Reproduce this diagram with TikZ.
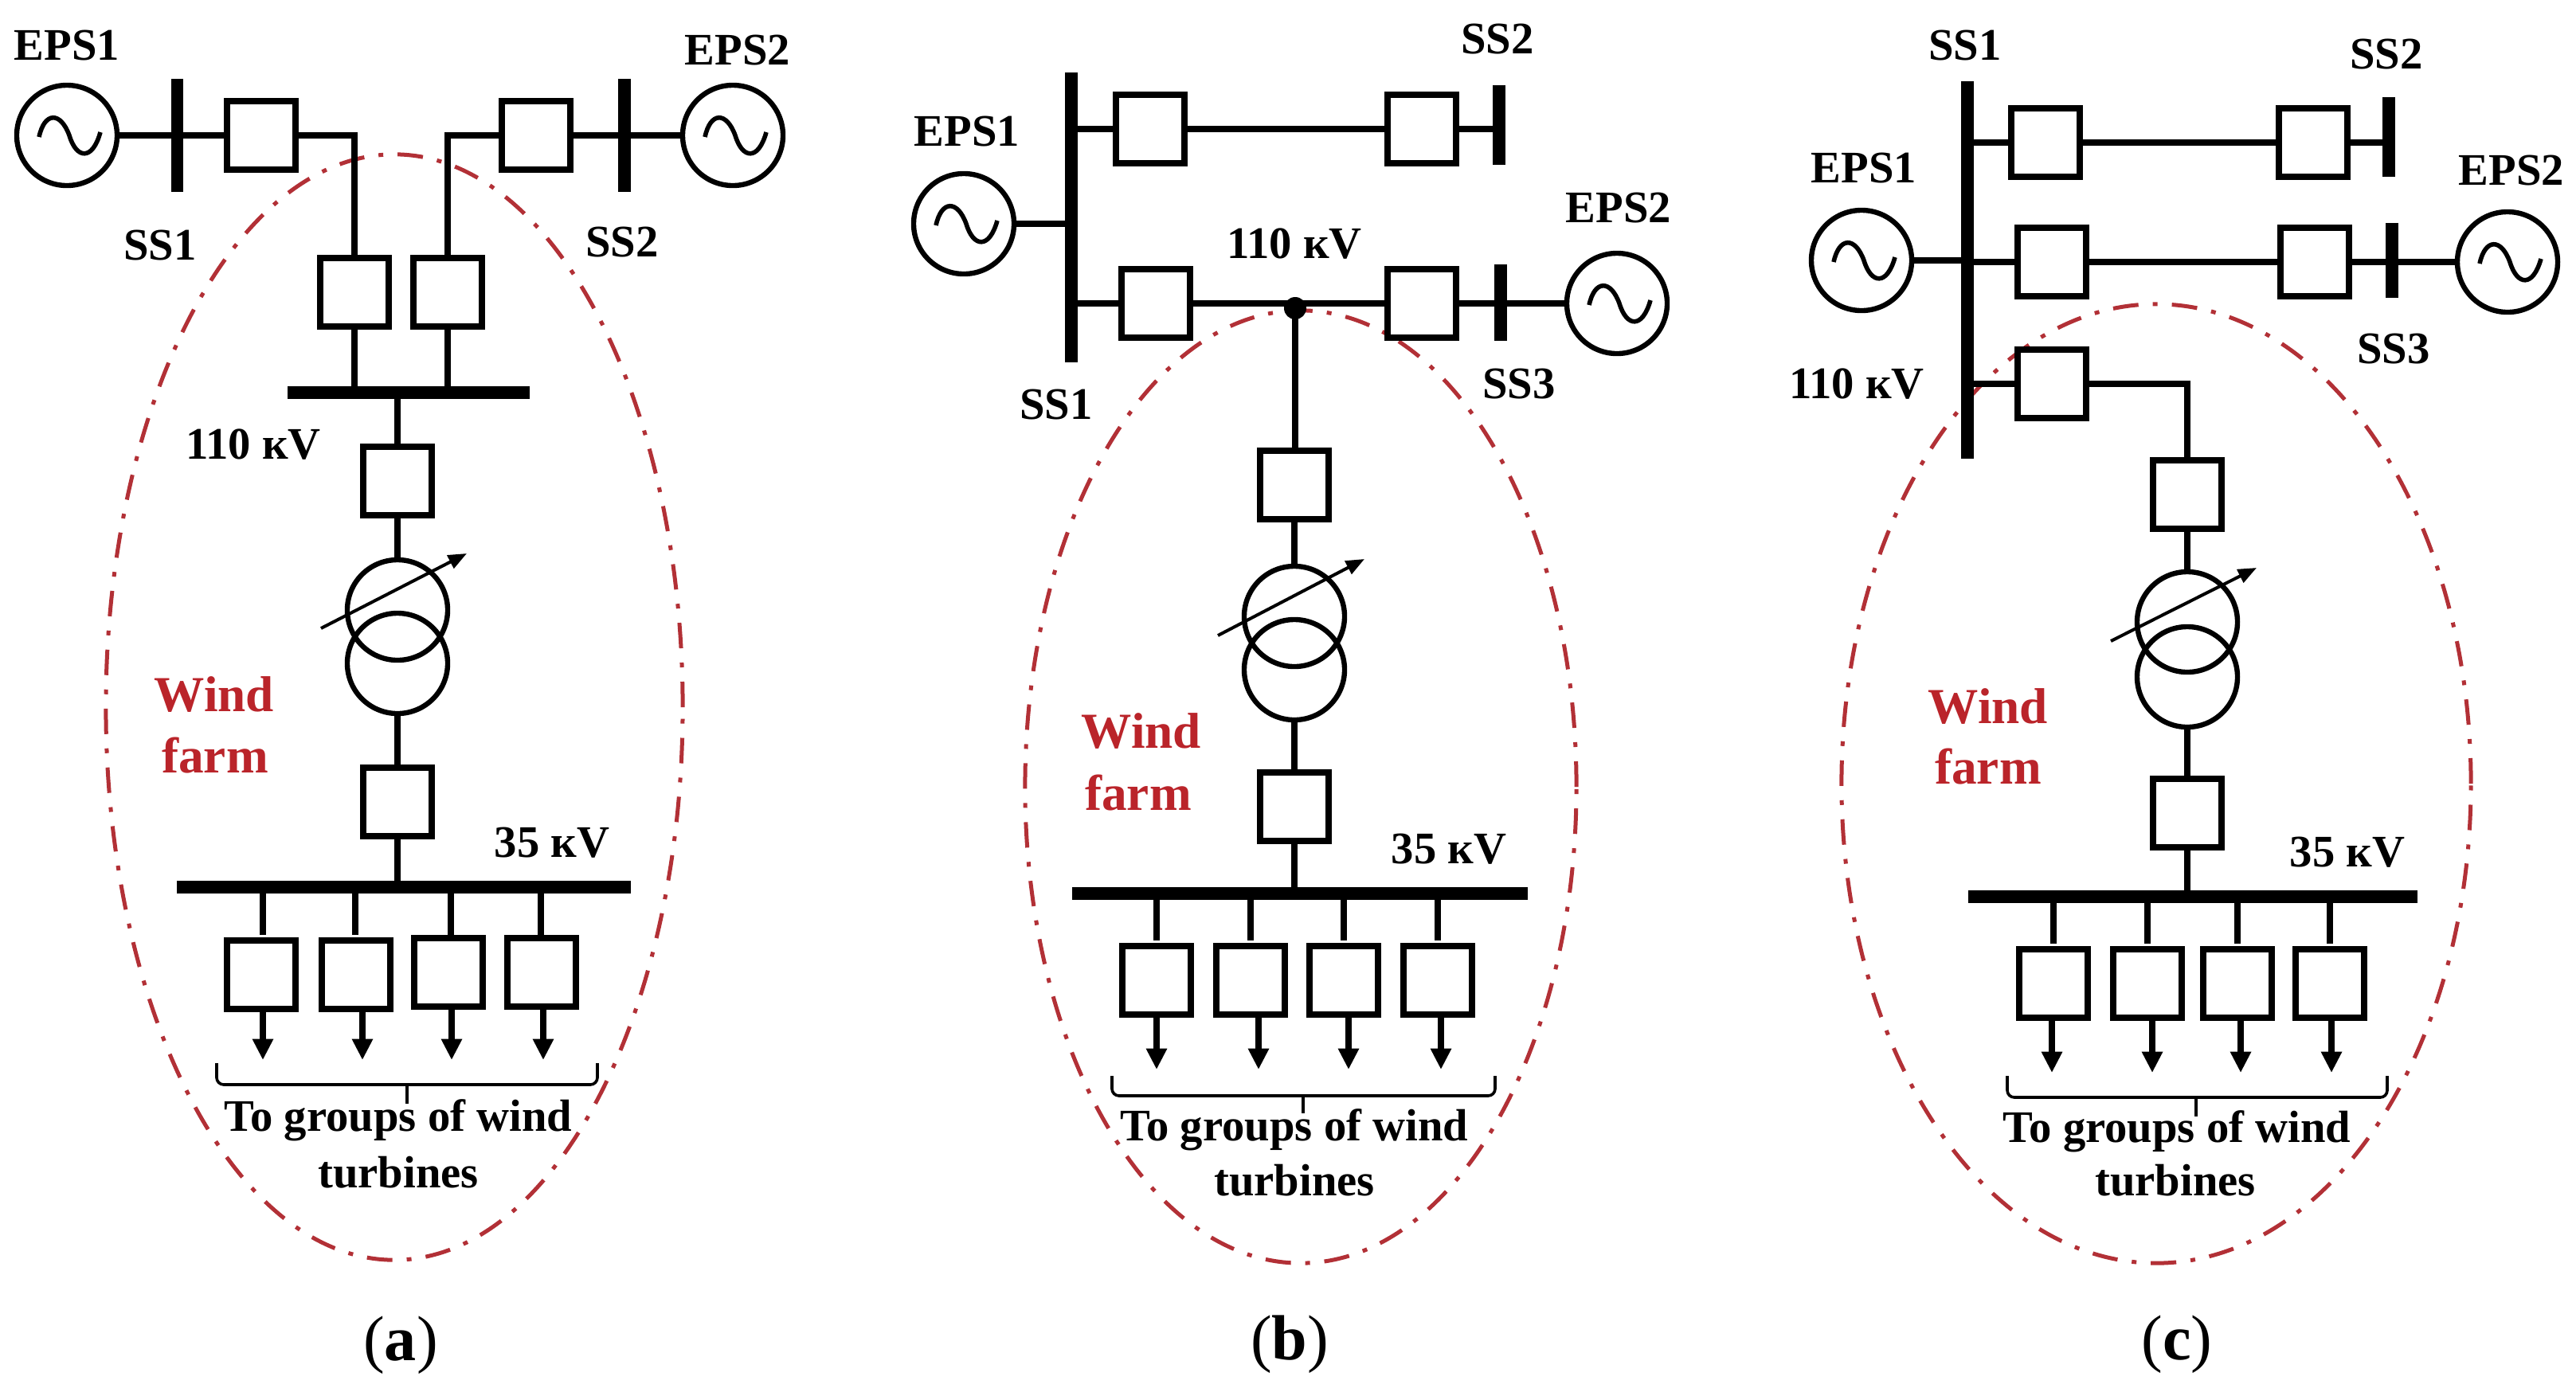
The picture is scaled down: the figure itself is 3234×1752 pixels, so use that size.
\documentclass[tikz,border=0pt]{standalone}
\usepackage{fontspec}
\setmainfont{Liberation Serif}
\usetikzlibrary{arrows.meta,shapes.geometric}
\definecolor{farmred}{RGB}{178,48,54}
\definecolor{farmtext}{RGB}{186,36,42}
\tikzset{
  x=0.025cm,y=-0.025cm,
  wire/.style={line width=0.19cm},
  boxn/.style={draw,line width=0.21cm,minimum width=2.15cm,minimum height=2.15cm,inner sep=0pt,outer sep=0pt},
  gen/.style={circle,draw,line width=0.16cm,minimum size=3.15cm,inner sep=0pt,outer sep=0pt},
  wind/.style={circle,draw,line width=0.16cm,minimum size=3.15cm,inner sep=0pt,outer sep=0pt},
  busv/.style={fill=black,minimum width=0.38cm,inner sep=0pt,outer sep=0pt},
  bush/.style={fill=black,minimum height=0.38cm,inner sep=0pt,outer sep=0pt},
  lab/.style={font=\fontsize{40.3}{48}\selectfont\bfseries,text=black,inner sep=0pt,align=center},
  farmlab/.style={font=\fontsize{45}{54}\selectfont\bfseries,text=farmtext,inner sep=0pt},
  caplab/.style={font=\fontsize{57}{64}\selectfont,text=black,inner sep=0pt},
  farm/.style={ellipse,draw=farmred,line width=0.125cm,inner sep=0pt,outer sep=0pt,dash pattern=on 0.8cm off 0.45cm on 0.15cm off 0.45cm},
  tap/.style={line width=0.1cm,-{Triangle[length=0.58cm,width=0.45cm]}},
  feed/.style={line width=0.19cm,-{Triangle[length=0.66cm,width=0.62cm]}},
  brace/.style={line width=0.09cm,rounded corners=0.22cm},
  tick/.style={line width=0.09cm},
  acs/.style={line width=0.14cm}
}
\newcommand{\acsym}[1]{\draw[acs,shift={(#1.center)}] (-35,2) .. controls (-28,-30) and (-8,-30) .. (3,0) .. controls (12,30) and (32,32) .. (42,-4);}
\begin{document}
\begin{tikzpicture}
\useasboundingbox (0,0) rectangle (3234,1752);
% ---------- panel a
\node[farm,minimum width=18.1cm,minimum height=34.7cm] (fa) at (495,888) {};
\node[gen] (aE1) at (84,170) {};
\node[gen] (aE2) at (920,170) {};
\acsym{aE1}\acsym{aE2}
\node[busv,minimum height=3.55cm] (aS1) at (222.5,170) {};
\node[busv,minimum height=3.55cm] (aS2) at (784,170) {};
\node[boxn] (aB1) at (328,170) {};
\node[boxn] (aB2) at (673,170) {};
\node[boxn] (aB3) at (445,367) {};
\node[boxn] (aB4) at (562,367) {};
\node[bush,minimum width=7.58cm] (aH) at (513,493) {};
\node[boxn] (aB5) at (499,604) {};
\node[wind] (aT1) at (499,766) {};
\node[wind] (aT2) at (499,833) {};
\node[boxn] (aB6) at (499,1007) {};
\node[bush,minimum width=14.25cm] (aL) at (507,1114) {};
\node[boxn] (aF1) at (328,1224) {};
\node[boxn] (aF2) at (447,1224) {};
\node[boxn] (aF3) at (563,1221) {};
\node[boxn] (aF4) at (680,1221) {};
\draw[wire] (aE1.east) -- (aB1.west);
\draw[wire] (aB2.east) -- (aE2.west);
\draw[wire] (aB1.east) -| (aB3.north);
\draw[wire] (aB2.west) -| (aB4.north);
\draw[wire] (aB3.south) -- (aB3.south |- aH.center);
\draw[wire] (aB4.south) -- (aB4.south |- aH.center);
\draw[wire] (aB5.north) -- (aB5.north |- aH.center);
\draw[wire] (aB5.south) -- (aT1.north);
\draw[wire] (aT2.south) -- (aB6.north);
\draw[wire] (aB6.south) -- (aB6.south |- aL.center);
\foreach \x in {330,446,566,679}{\draw[wire] (\x,1114) -- (\x,1174);}
\coordinate (aA1) at (330,1331); \coordinate (aA2) at (455,1331);
\coordinate (aA3) at (567,1331); \coordinate (aA4) at (682,1331);
\draw[feed] (aF1.south -| aA1) -- (aA1);
\draw[feed] (aF2.south -| aA2) -- (aA2);
\draw[feed] (aF3.south -| aA3) -- (aA3);
\draw[feed] (aF4.south -| aA4) -- (aA4);
\coordinate (aTs) at (403,789); \coordinate (aTe) at (586,695);
\draw[tap] (aTs) -- (aTe);
\coordinate (aBl) at (272,1335); \coordinate (aBr) at (750,1335); \coordinate (aBm) at (511,1362); \coordinate (aBt) at (511,1386);
\draw[brace] (aBl) |- (aBm) -| (aBr);
\draw[tick] (aBm) -- (aBt);
\node[lab] (aLE1) at (84,57) {EPS1};
\node[lab] (aLE2) at (926,63) {EPS2};
\node[lab] (aLS1) at (201,308) {SS1};
\node[lab] (aLS2) at (781,304) {SS2};
\node[lab] (aLH) at (318,558) {110 кV};
\node[lab] (aLL) at (693,1058) {35 кV};
\node[farmlab] (aW) at (269,872) {Wind};
\node[farmlab] (aFm) at (270,949) {farm};
\node[lab] (aG1) at (500,1407) {To groups of wind};
\node[lab] (aG2) at (500,1472) {turbines};
\node[caplab] (aC) at (503,1689) {(\textbf{a})};
% ---------- panel b
\node[farm,minimum width=17.3cm,minimum height=29.9cm] (fb) at (1633,988) {};
\node[gen] (bE1) at (1210,281) {};
\node[gen] (bE2) at (2030,381) {};
\acsym{bE1}\acsym{bE2}
\node[busv,minimum height=9.1cm] (bS1) at (1345,273) {};
\node[busv,minimum height=2.5cm] (bS2) at (1882,157) {};
\node[busv,minimum height=2.4cm] (bS3) at (1884,380) {};
\node[boxn] (bB1) at (1444,162) {};
\node[boxn] (bB2) at (1785,162) {};
\node[boxn] (bB3) at (1451,381) {};
\node[boxn] (bB4) at (1785,381) {};
\node[circle,fill=black,minimum size=0.7cm,inner sep=0pt,outer sep=0pt] (bD) at (1626,387) {};
\node[boxn] (bB5) at (1625,609) {};
\node[wind] (bT1) at (1625,774) {};
\node[wind] (bT2) at (1625,841) {};
\node[boxn] (bB6) at (1625,1013) {};
\node[bush,minimum width=14.3cm] (bL) at (1632,1122) {};
\node[boxn] (bF1) at (1452,1231) {};
\node[boxn] (bF2) at (1570,1231) {};
\node[boxn] (bF3) at (1687,1231) {};
\node[boxn] (bF4) at (1805,1231) {};
\draw[wire] (bS1.center |- bB1.west) -- (bB1.west);
\draw[wire] (bB1.east) -- (bB2.west);
\draw[wire] (bB2.east) -- (bS2.center |- bB2.east);
\draw[wire] (bE1.east) -- (bE1.east -| bS1.center);
\draw[wire] (bS1.center |- bB3.west) -- (bB3.west);
\draw[wire] (bB3.east) -- (bB4.west);
\draw[wire] (bB4.east) -- (bE2.west);
\draw[wire] (bD.center) -- (bD.center |- bB5.north);
\draw[wire] (bB5.south) -- (bT1.north);
\draw[wire] (bT2.south) -- (bB6.north);
\draw[wire] (bB6.south) -- (bB6.south |- bL.center);
\foreach \x in {1452,1570,1687,1805}{\draw[wire] (\x,1122) -- (\x,1181);}
\coordinate (bA1) at (1452,1343); \coordinate (bA2) at (1580,1343);
\coordinate (bA3) at (1693,1343); \coordinate (bA4) at (1809,1343);
\draw[feed] (bF1.south -| bA1) -- (bA1);
\draw[feed] (bF2.south -| bA2) -- (bA2);
\draw[feed] (bF3.south -| bA3) -- (bA3);
\draw[feed] (bF4.south -| bA4) -- (bA4);
\coordinate (bTs) at (1529,798); \coordinate (bTe) at (1713,702);
\draw[tap] (bTs) -- (bTe);
\coordinate (bBl) at (1396,1351); \coordinate (bBr) at (1877,1351); \coordinate (bBm) at (1636,1376); \coordinate (bBt) at (1636,1398);
\draw[brace] (bBl) |- (bBm) -| (bBr);
\draw[tick] (bBm) -- (bBt);
\node[lab] (bLE1) at (1214,165) {EPS1};
\node[lab] (bLE2) at (2032,261) {EPS2};
\node[lab] (bLS1) at (1326,508) {SS1};
\node[lab] (bLS2) at (1880,49) {SS2};
\node[lab] (bLS3) at (1907,482) {SS3};
\node[lab] (bLH) at (1625,306) {110 кV};
\node[lab] (bLL) at (1819,1066) {35 кV};
\node[farmlab] (bW) at (1433,918) {Wind};
\node[farmlab] (bFm) at (1429,996) {farm};
\node[lab] (bG1) at (1625,1419) {To groups of wind};
\node[lab] (bG2) at (1625,1482) {turbines};
\node[caplab] (bC) at (1619,1688) {(\textbf{b})};
% ---------- panel c
\node[farm,minimum width=19.75cm,minimum height=30.1cm] (fc) at (2707,984) {};
\node[gen] (cE1) at (2337,327) {};
\node[gen] (cE2) at (3148,329) {};
\acsym{cE1}\acsym{cE2}
\node[busv,minimum height=11.85cm] (cS1) at (2470,339) {};
\node[busv,minimum height=2.5cm] (cS2) at (2999,172) {};
\node[busv,minimum height=2.35cm] (cS3) at (3003,327) {};
\node[boxn] (cB1) at (2568,179) {};
\node[boxn] (cB2) at (2904,179) {};
\node[boxn] (cB3) at (2576,329) {};
\node[boxn] (cB4) at (2906,329) {};
\node[boxn] (cB5) at (2576,482) {};
\node[boxn] (cB6) at (2746,621) {};
\node[wind] (cT1) at (2746,781) {};
\node[wind] (cT2) at (2746,850) {};
\node[boxn] (cB7) at (2746,1021) {};
\node[bush,minimum width=14.1cm] (cL) at (2753,1126) {};
\node[boxn] (cF1) at (2578,1235) {};
\node[boxn] (cF2) at (2696,1235) {};
\node[boxn] (cF3) at (2809,1235) {};
\node[boxn] (cF4) at (2925,1235) {};
\draw[wire] (cS1.center |- cB1.west) -- (cB1.west);
\draw[wire] (cB1.east) -- (cB2.west);
\draw[wire] (cB2.east) -- (cS2.center |- cB2.east);
\draw[wire] (cE1.center -| cE1.east) -- (cE1.center -| cS1.center);
\draw[wire] (cS1.center |- cB3.west) -- (cB3.west);
\draw[wire] (cB3.east) -- (cB4.west);
\draw[wire] (cB4.east) -- (cE2.west);
\draw[wire] (cS1.center |- cB5.west) -- (cB5.west);
\draw[wire] (cB5.east) -| (cB6.north);
\draw[wire] (cB6.south) -- (cT1.north);
\draw[wire] (cT2.south) -- (cB7.north);
\draw[wire] (cB7.south) -- (cB7.south |- cL.center);
\foreach \x in {2578,2696,2809,2925}{\draw[wire] (\x,1126) -- (\x,1185);}
\coordinate (cA1) at (2576,1347); \coordinate (cA2) at (2702,1347);
\coordinate (cA3) at (2813,1347); \coordinate (cA4) at (2927,1347);
\draw[feed] (cF1.south -| cA1) -- (cA1);
\draw[feed] (cF2.south -| cA2) -- (cA2);
\draw[feed] (cF3.south -| cA3) -- (cA3);
\draw[feed] (cF4.south -| cA4) -- (cA4);
\coordinate (cTs) at (2650,805); \coordinate (cTe) at (2833,713);
\draw[tap] (cTs) -- (cTe);
\coordinate (cBl) at (2520,1351); \coordinate (cBr) at (2997,1351); \coordinate (cBm) at (2757,1378); \coordinate (cBt) at (2757,1402);
\draw[brace] (cBl) |- (cBm) -| (cBr);
\draw[tick] (cBm) -- (cBt);
\node[lab] (cLE1) at (2340,211) {EPS1};
\node[lab] (cLE2) at (3153,214) {EPS2};
\node[lab] (cLS1) at (2467,57) {SS1};
\node[lab] (cLS2) at (2996,68) {SS2};
\node[lab] (cLS3) at (3005,438) {SS3};
\node[lab] (cLH) at (2331,482) {110 кV};
\node[lab] (cLL) at (2947,1070) {35 кV};
\node[farmlab] (cW) at (2496,887) {Wind};
\node[farmlab] (cFm) at (2496,963) {farm};
\node[lab] (cG1) at (2733,1421) {To groups of wind};
\node[lab] (cG2) at (2731,1482) {turbines};
\node[caplab] (cCap) at (2733,1688) {(\textbf{c})};
\end{tikzpicture}
\end{document}
